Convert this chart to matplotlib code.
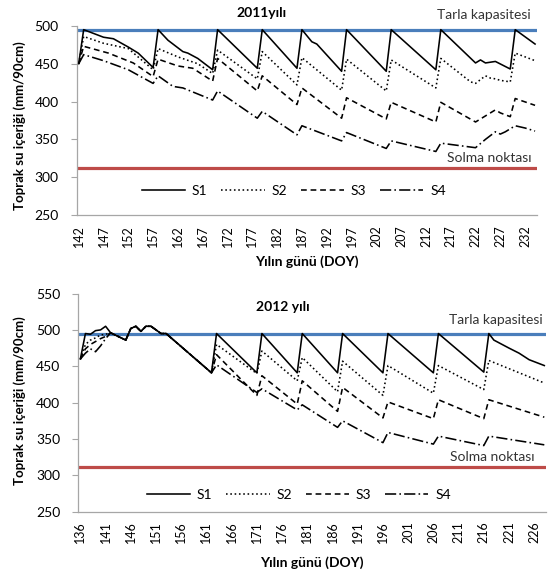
import numpy as np
import matplotlib.pyplot as plt

plt.rcParams['font.family'] = ['Lato', 'DejaVu Sans']

# ---- 2011 (gun, su icerigi) ----
g11_s1 = [142, 143, 147, 149, 152, 154, 157, 158, 160, 163, 164, 166, 169, 170, 178, 179,
          186, 187, 189, 190, 195, 196, 204, 205, 214, 215, 222, 223, 224, 225, 226, 229, 230, 234]
v11_s1 = [450, 495, 485, 483, 472, 464, 445, 495, 481, 466, 464, 457, 442, 495, 444, 495,
          444, 495, 479, 476, 440, 495, 440, 495, 442, 495, 451, 455, 451, 452, 453, 443, 495, 476]

g11_s2 = [142, 143, 147, 152, 157, 158, 162, 166, 169, 170, 178, 179, 186, 187, 195, 196,
          204, 205, 214, 215, 221, 222, 224, 225, 226, 227, 229, 230, 234]
v11_s2 = [450, 486, 477, 470, 442, 470, 459, 450, 437, 468, 430, 466, 422, 458, 415, 456,
          414, 455, 418, 457, 426, 424, 434, 431, 430, 428, 426, 464, 454]

g11_s3 = [142, 143, 148, 153, 157, 158, 162, 165, 169, 170, 178, 179, 186, 187, 195, 196,
          204, 205, 214, 215, 222, 224, 226, 227, 229, 230, 234]
v11_s3 = [450, 473, 464, 451, 433, 456, 447, 444, 427, 457, 414, 434, 396, 418, 378, 405,
          377, 399, 373, 399, 373, 381, 389, 385, 380, 404, 395]

g11_s4 = [142, 143, 147, 152, 157, 158, 161, 163, 169, 170, 178, 179, 186, 187, 195, 196,
          204, 205, 214, 215, 222, 224, 226, 227, 228, 230, 232, 234]
v11_s4 = [450, 462, 454, 442, 424, 434, 420, 418, 402, 414, 378, 387, 356, 368, 348, 359,
          338, 348, 334, 345, 339, 350, 360, 357, 360, 368, 365, 361]

# ---- 2012 ----
g12_ortak = [142, 145, 146, 147, 148, 149, 150, 151, 152, 153, 162]
v12_ortak = [496, 486, 502, 505, 498, 505, 505, 500, 495, 495, 441]

g12_s1 = [136, 137, 138, 139, 140, 141] + g12_ortak + [163, 171, 172, 179, 180, 187, 188,
          196, 197, 206, 207, 216, 217, 218, 221, 223, 225, 228]
v12_s1 = [460, 495, 494, 499, 500, 505] + v12_ortak + [495, 441, 495, 441, 495, 441, 495,
          441, 495, 441, 495, 442, 495, 486, 475, 468, 459, 451]

g12_s2 = [136, 137, 138, 139, 140, 141] + g12_ortak + [163, 171, 172, 179, 180, 187, 188,
          196, 197, 206, 207, 216, 217, 228]
v12_s2 = [460, 480, 486, 489, 493, 494] + v12_ortak + [480, 440, 471, 430, 462, 415, 457,
          410, 451, 413, 451, 418, 458, 427]

g12_s3 = [136, 137, 138, 139, 140, 141] + g12_ortak + [163, 171, 172, 179, 180, 187, 188,
          196, 197, 206, 207, 216, 217, 228]
v12_s3 = [460, 474, 480, 484, 488, 491] + v12_ortak + [466, 410, 437, 398, 430, 388, 421,
          379, 401, 378, 404, 378, 404, 380]

g12_s4 = [136, 137, 138, 139, 140, 141] + g12_ortak + [163, 171, 172, 179, 180, 187, 188,
          196, 197, 206, 207, 216, 217, 228]
v12_s4 = [460, 468, 474, 470, 478, 488] + v12_ortak + [452, 414, 419, 390, 397, 366, 375,
          345, 359, 343, 354, 341, 354, 342]

tarla_kap = 495
solma = 312

mavi = '#4A7EBB'
kirmizi = '#BE4B48'
stiller = ['-', (0, (1, 1.7)), (0, (3.6, 2.4)), (0, (7, 2, 1, 2))]

fig = plt.figure(figsize=(5.48, 5.75), dpi=100)
ax1 = fig.add_axes([0.140, 0.626, 0.840, 0.329])
ax2 = fig.add_axes([0.143, 0.110, 0.853, 0.3795])


def ciz(ax, seriler, xlim, ylim, xt, yt, leg_y):
    ax.axhline(tarla_kap, color=mavi, lw=2.3, zorder=1)
    ax.axhline(solma, color=kirmizi, lw=2.3, zorder=1)
    for (g, v), ls, ad in zip(seriler, stiller, ['S1', 'S2', 'S3', 'S4']):
        ax.plot(g, v, color='black', lw=1.15, linestyle=ls, label=ad, zorder=3)
    ax.set_xlim(xlim)
    ax.set_ylim(ylim)
    ax.set_xticks(xt)
    ax.set_xticklabels([str(t) for t in xt], rotation=90, fontsize=9)
    ax.set_yticks(yt)
    ax.set_yticklabels([str(t) for t in yt], fontsize=10)
    ax.tick_params(axis='x', length=0, pad=7)
    ax.tick_params(axis='y', length=4, width=0.8, color='#A6A6A6', pad=9)
    for s in ['top', 'right']:
        ax.spines[s].set_visible(False)
    for s in ['left', 'bottom']:
        ax.spines[s].set_color('#A6A6A6')
        ax.spines[s].set_linewidth(0.9)
    ax.legend(loc='center', bbox_to_anchor=(0.472, leg_y), ncol=4, frameon=False,
              fontsize=10, handlelength=3.1, handletextpad=0.5, columnspacing=1.0)


ciz(ax1, [(g11_s1, v11_s1), (g11_s2, v11_s2), (g11_s3, v11_s3), (g11_s4, v11_s4)],
    (141.6, 234.4), (250, 500), range(142, 233, 5), range(250, 501, 50), 0.127)
ciz(ax2, [(g12_s1, v12_s1), (g12_s2, v12_s2), (g12_s3, v12_s3), (g12_s4, v12_s4)],
    (135.6, 228.3), (250, 550), range(136, 227, 5), range(250, 551, 50), 0.077)

# basliklar ve etiketler
fig.text(0.478, 0.977, '2011yılı', ha='center', va='center', fontsize=10, fontweight='bold')
fig.text(0.5155, 0.4666, '2012 yılı', ha='center', va='center', fontsize=10, fontweight='bold')
fig.text(0.969, 0.974, 'Tarla kapasitesi', ha='right', va='center', fontsize=10, color='#333333')
fig.text(0.991, 0.4435, 'Tarla kapasitesi', ha='right', va='center', fontsize=10, color='#333333')
fig.text(0.971, 0.725, 'Solma noktası', ha='right', va='center', fontsize=10, color='#333333')
fig.text(0.976, 0.2057, 'Solma noktası', ha='right', va='center', fontsize=10, color='#333333')

for y in [0.781, 0.304]:
    fig.text(0.036, y, 'Toprak su içeriği (mm/90cm)', rotation=90, ha='center', va='center',
             fontsize=9.5, fontweight='bold')
fig.text(0.560, 0.5443, 'Yılın günü (DOY)', ha='center', va='center', fontsize=10, fontweight='bold')
fig.text(0.569, 0.0209, 'Yılın günü (DOY)', ha='center', va='center', fontsize=10, fontweight='bold')

fig.savefig('out.png', dpi=100)
